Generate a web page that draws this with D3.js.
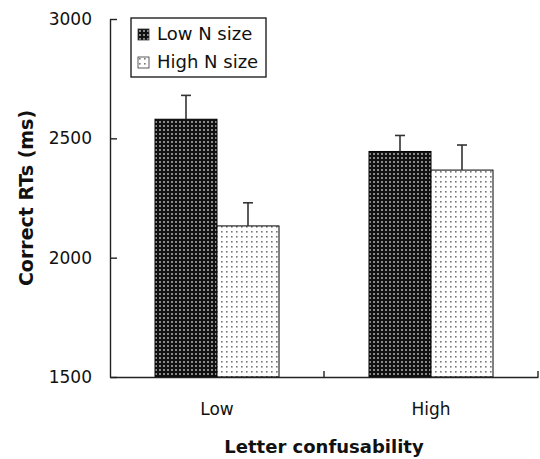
<!DOCTYPE html>
<html>
<head>
<meta charset="utf-8">
<title>Correct RTs by letter confusability</title>
<style>
  body { margin: 0; background: #fff; }
  svg { display: block; font-family: "DejaVu Sans", sans-serif; }
</style>
</head>
<body>
<div id="chart"></div>
<script src="https://d3js.org/d3.v7.min.js"></script>
<script>
// data
var categories = ["Low", "High"];
var series = ["Low N size", "High N size"];
var lowNMeans = [2580, 2445];
var highNMeans = [2133, 2367];
var lowNErr = [100, 67];
var highNErr = [97, 105];
var yTicks = [1500, 2000, 2500, 3000];

var width = 540, height = 459;
var plotLeft = 110, plotRight = 538, plotTop = 19, plotBottom = 377;

var svg = d3.select("#chart").append("svg")
    .attr("width", width)
    .attr("height", height);

// fill patterns
var defs = svg.append("defs");
var dark = defs.append("pattern").attr("id", "dark")
    .attr("patternUnits", "userSpaceOnUse").attr("width", 4).attr("height", 4);
dark.append("rect").attr("width", 4).attr("height", 4).attr("fill", "#111");
dark.append("rect").attr("x", 1).attr("y", 1).attr("width", 2).attr("height", 2).attr("fill", "#8a8a8a");

var light = defs.append("pattern").attr("id", "light")
    .attr("patternUnits", "userSpaceOnUse").attr("width", 5).attr("height", 5);
light.append("rect").attr("width", 5).attr("height", 5).attr("fill", "#fff");
light.append("rect").attr("x", 1).attr("y", 1).attr("width", 1.6).attr("height", 1.6).attr("fill", "#777");

var fills = ["url(#dark)", "url(#light)"];

var y = d3.scaleLinear().domain([1500, 3000]).range([plotBottom, plotTop]);
var x0 = d3.scaleBand().domain(categories).range([plotLeft, plotRight]);
var x1 = d3.scaleBand().domain(series).range([45, 169]);

var rows = categories.map(function(c, i) {
    return {
        cat: c,
        vals: [
            { s: series[0], v: lowNMeans[i], e: lowNErr[i] },
            { s: series[1], v: highNMeans[i], e: highNErr[i] }
        ]
    };
});

// bars
var groups = svg.selectAll(".grp")
    .data(rows)
    .enter().append("g")
    .attr("class", "grp")
    .attr("transform", function(d) { return "translate(" + x0(d.cat) + ",0)"; });

groups.selectAll("rect")
    .data(function(d) { return d.vals; })
    .enter().append("rect")
    .attr("x", function(d) { return x1(d.s); })
    .attr("y", function(d) { return y(d.v); })
    .attr("width", x1.bandwidth())
    .attr("height", function(d) { return y(1500) - y(d.v); })
    .attr("fill", function(d, i) { return fills[i]; })
    .attr("stroke", "#000")
    .attr("stroke-width", 1);

// error bars
var err = groups.selectAll(".err")
    .data(function(d) { return d.vals; })
    .enter().append("g")
    .attr("class", "err")
    .attr("stroke", "#333")
    .attr("stroke-width", 1.6);

err.append("line")
    .attr("x1", function(d) { return x1(d.s) + x1.bandwidth() / 2; })
    .attr("x2", function(d) { return x1(d.s) + x1.bandwidth() / 2; })
    .attr("y1", function(d) { return y(d.v); })
    .attr("y2", function(d) { return y(d.v + d.e); });

err.append("line")
    .attr("x1", function(d) { return x1(d.s) + x1.bandwidth() / 2 - 5; })
    .attr("x2", function(d) { return x1(d.s) + x1.bandwidth() / 2 + 5; })
    .attr("y1", function(d) { return y(d.v + d.e); })
    .attr("y2", function(d) { return y(d.v + d.e); });

// y axis, ticks pointing inward
var yAxis = svg.append("g")
    .attr("transform", "translate(" + plotLeft + ",0)")
    .call(d3.axisLeft(y).tickValues(yTicks).tickFormat(d3.format("d"))
        .tickSizeInner(-7).tickSizeOuter(0).tickPadding(18));
yAxis.selectAll("text").attr("font-size", 17).attr("fill", "#111").attr("font-family", "DejaVu Sans, sans-serif");
yAxis.selectAll("line,path").attr("stroke", "#222").attr("stroke-width", 1.4);

// x axis: labels at band centres, ticks at band edges
var xAxis = svg.append("g")
    .attr("transform", "translate(0," + plotBottom + ")")
    .call(d3.axisBottom(x0).tickSize(0).tickPadding(26));
xAxis.selectAll("text").attr("font-size", 17).attr("fill", "#111").attr("font-family", "DejaVu Sans, sans-serif");
xAxis.select(".domain").attr("stroke", "#222").attr("stroke-width", 1.6);

svg.selectAll(".xedge")
    .data(categories)
    .enter().append("line")
    .attr("class", "xedge")
    .attr("x1", function(d) { return x0(d) + x0.bandwidth(); })
    .attr("x2", function(d) { return x0(d) + x0.bandwidth(); })
    .attr("y1", plotBottom)
    .attr("y2", plotBottom - 6)
    .attr("stroke", "#222")
    .attr("stroke-width", 1.4);

// axis titles
svg.append("text")
    .attr("x", (plotLeft + plotRight) / 2)
    .attr("y", 453)
    .attr("text-anchor", "middle")
    .attr("font-size", 18)
    .attr("font-weight", "bold")
    .attr("fill", "#111")
    .text("Letter confusability");

svg.append("text")
    .attr("transform", "translate(33,198) rotate(-90)")
    .attr("text-anchor", "middle")
    .attr("font-size", 19)
    .attr("font-weight", "bold")
    .attr("fill", "#111")
    .text("Correct RTs (ms)");

// legend
var legend = svg.append("g");
legend.append("rect")
    .attr("x", 131).attr("y", 18)
    .attr("width", 135).attr("height", 59)
    .attr("fill", "#fff")
    .attr("stroke", "#222")
    .attr("stroke-width", 1.4);

var items = legend.selectAll(".item")
    .data(series)
    .enter().append("g")
    .attr("class", "item")
    .attr("transform", function(d, i) { return "translate(138," + (29 + i * 28) + ")"; });

items.append("rect")
    .attr("width", 11).attr("height", 11)
    .attr("fill", function(d, i) { return fills[i]; })
    .attr("stroke", "#333")
    .attr("stroke-width", 0.8);

items.append("text")
    .attr("x", 19)
    .attr("y", 11)
    .attr("font-size", 18)
    .attr("fill", "#111")
    .text(function(d) { return d; });
</script>
</body>
</html>
